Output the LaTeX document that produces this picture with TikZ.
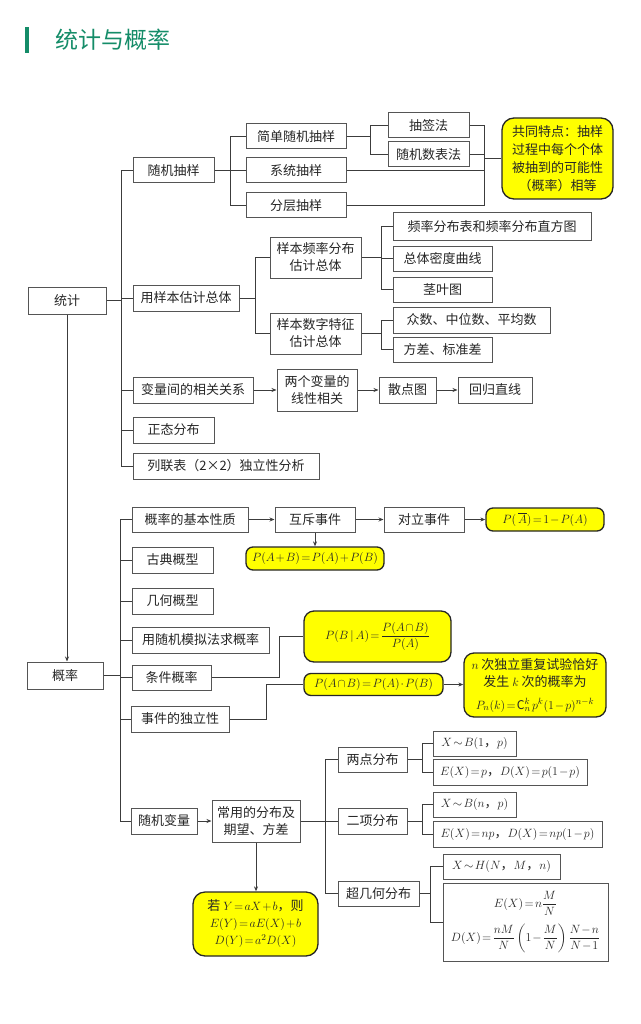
\RequirePackage{fix-cm}
\documentclass[tikz,border=0pt]{standalone}
\usepackage{amsmath}
\usepackage{fontspec}
\setmainfont{Noto Sans CJK SC}
\usetikzlibrary{arrows.meta,calc}
\DeclareMathSizes{13}{12}{9}{7}
\thickmuskip=2mu plus 1mu\medmuskip=1.5mu plus 1mu
\definecolor{TitleGreen}{RGB}{20,140,104}
\definecolor{LineGray}{RGB}{60,60,60}
\definecolor{BoxGray}{RGB}{85,85,85}
\definecolor{NoteYellow}{RGB}{255,255,0}
\tikzset{
  box/.style={draw=BoxGray,fill=white,line width=1pt,inner sep=0pt,minimum height=25pt,align=center,text=black!85,font=\fontsize{13}{17}\selectfont},
  note/.style={box,draw=black!85,fill=NoteYellow,line width=1.3pt,rounded corners=7pt},
  link/.style={draw=LineGray,line width=1pt},
  arr/.style={link,-{Stealth[length=5pt,width=4pt]}}
}
\begin{document}
\begin{tikzpicture}[x=1pt,y=-1pt]
\useasboundingbox (0,0) rectangle (640,1024);
% title
\fill[TitleGreen] (25,27) rectangle (29,53);
\node[anchor=west,inner sep=0pt,text=TitleGreen,font=\fontsize{23}{23}\selectfont] (title) at (55,40) {统计与概率};
% bus positions
\coordinate (sb) at (121,0);\coordinate (pb) at (120,0);
\coordinate (b1) at (230,0);\coordinate (b2) at (370,0);\coordinate (b3) at (484,0);
\coordinate (b4) at (255,0);\coordinate (b5) at (381,0);
\coordinate (k1) at (279,0);\coordinate (k2) at (266,0);
\coordinate (d1) at (325,0);\coordinate (d2) at (422,0);\coordinate (d3) at (430,0);
% 统计
\node[box,minimum width=78pt,minimum height=27pt] (tongji) at (67,300.5) {统计};
\node[box,minimum width=81pt] (suiji) at (173.5,170.5) {随机抽样};
\node[box,minimum width=106pt,minimum height=26pt] (yangben) at (186,298) {用样本估计总体};
\node[box,minimum width=120pt,minimum height=26pt] (bianliang) at (193,390) {变量间的相关关系};
\node[box,minimum width=81pt,minimum height=26pt] (zhengtai) at (173.5,430) {正态分布};
\node[box,minimum width=186pt,minimum height=26pt] (lianbiao) at (226,466) {列联表（2×2）独立性分析};
\node[box,minimum width=100pt] (jiandan) at (296,136.5) {简单随机抽样};
\node[box,minimum width=100pt] (xitong) at (296,170.5) {系统抽样};
\node[box,minimum width=100pt] (fenceng) at (296,205.5) {分层抽样};
\node[box,minimum width=81pt] (chouqian) at (428.5,125.5) {抽签法};
\node[box,minimum width=81pt] (suijishu) at (428.5,154.5) {随机数表法};
\node[note,minimum width=111pt,minimum height=81pt,rounded corners=12pt,font=\fontsize{13}{18}\selectfont] (tedian) at (557.5,158.5) {共同特点：抽样\\过程中每个个体\\被抽到的可能性\\（概率）相等};
\node[box,minimum width=91pt,minimum height=41pt] (pinlv) at (315.5,257.5) {样本频率分布\\估计总体};
\node[box,minimum width=91pt,minimum height=41pt] (shuzi) at (315.5,333.5) {样本数字特征\\估计总体};
\node[box,minimum width=198pt,minimum height=27pt] (zhifang) at (492,226.5) {频率分布表和频率分布直方图};
\node[box,minimum width=99pt] (midu) at (442.5,258.5) {总体密度曲线};
\node[box,minimum width=99pt] (jingye) at (442.5,289.5) {茎叶图};
\node[box,minimum width=157pt,minimum height=26pt] (zhongshu) at (471.5,320) {众数、中位数、平均数};
\node[box,minimum width=99pt] (fangcha) at (442.5,349.5) {方差、标准差};
\node[box,minimum width=80pt,minimum height=42pt] (liangge) at (317,390) {两个变量的\\线性相关};
\node[box,minimum width=57pt,minimum height=26pt] (sandian) at (407.5,390) {散点图};
\node[box,minimum width=74pt,minimum height=26pt] (huigui) at (495,390) {回归直线};
% 概率
\node[box,minimum width=76pt,minimum height=27pt] (gailv) at (65,675.5) {概率};
\node[box,minimum width=116pt] (jiben) at (190,519.5) {概率的基本性质};
\node[box,minimum width=80pt] (huchi) at (315,519.5) {互斥事件};
\node[box,minimum width=80pt] (duili) at (424,519.5) {对立事件};
\node[note,minimum width=118pt,minimum height=23pt] (pbar) at (545,519.5) {$P(\,\overline{A})=1-P(A)$};
\node[note,minimum width=138pt,minimum height=23pt] (padd) at (315,558.5) {$P(A+B)=P(A)+P(B)$};
\node[box,minimum width=81pt,minimum height=26pt] (gudian) at (172.5,560) {古典概型};
\node[box,minimum width=81pt,minimum height=26pt] (jihe) at (172.5,601) {几何概型};
\node[box,minimum width=137pt,minimum height=26pt] (moni) at (200.5,640) {用随机模拟法求概率};
\node[note,minimum width=147pt,minimum height=51pt,rounded corners=10pt] (pba) at (377.5,636.5) {$P(B\,|\,A)=\dfrac{P(A\cap B)}{P(A)}$};
\node[box,minimum width=79pt] (tiaojian) at (171.5,677.5) {条件概率};
\node[box,minimum width=98pt,minimum height=26pt] (duli) at (180,719) {事件的独立性};
\node[note,minimum width=139pt,minimum height=22pt] (pab) at (373.5,684.5) {$P(A\cap B)=P(A)\cdot P(B)$};
\node[note,minimum width=142pt,minimum height=64pt,rounded corners=10pt,font=\fontsize{13}{17}\selectfont] (nci) at (535,685) {$n$ 次独立重复试验恰好\\发生 $k$ 次的概率为\\[6pt]$P_n(k)=\mathrm{C}_n^k\;p^k(1-p)^{n-k}$};
\node[box,minimum width=88pt,minimum height=42pt] (changyong) at (256,821) {常用的分布及\\期望、方差};
\node[box,minimum width=66pt,minimum height=26pt] (bianl) at (164,821) {随机变量};
\node[note,minimum width=125pt,minimum height=64pt,rounded corners=12pt] (ruo) at (255.5,924) {若 $Y=aX+b$，则\\$E(Y)=aE(X)+b$\\$D(Y)=a^2D(X)$};
\node[box,minimum width=69pt] (liangdian) at (372.5,759.5) {两点分布};
\node[box,minimum width=69pt,minimum height=26pt] (erxiang) at (372.5,821) {二项分布};
\node[box,minimum width=81pt] (chaoji) at (378.5,893.5) {超几何分布};
\node[box,minimum width=83pt] (xb1) at (474.5,743.5) {$X\sim B(1$，$p)$};
\node[box,minimum width=154pt,minimum height=26pt] (ex1) at (510,772) {$E(X)=p$，$D(X)=p(1-p)$};
\node[box,minimum width=83pt] (xbn) at (474.5,804.5) {$X\sim B(n$，$p)$};
\node[box,minimum width=169pt,minimum height=26pt] (exn) at (517.5,834) {$E(X)=np$，$D(X)=np(1-p)$};
\node[box,minimum width=117pt] (xh) at (501.5,866.5) {$X\sim H(N$，$M$，$n)$};
\node[box,minimum width=165pt,minimum height=78pt] (edh) at (525.5,922) {$E(X)=n\dfrac{M}{N}$\\[7pt]$D(X)=\dfrac{nM}{N}\left(1-\dfrac{M}{N}\right)\dfrac{N-n}{N-1}$};
% 统计 connectors
\draw[arr] (tongji.south) -- (tongji.south |- gailv.north);
\draw[link] (tongji.east) -- (tongji.east -| sb);
\draw[link] (suiji.west) -| (sb |- lianbiao.west) -- (lianbiao.west);
\foreach \n in {yangben,bianliang,zhengtai} \draw[link] (\n.west) -- (\n.west -| sb);
\draw[link] (suiji.east) -- (xitong.west);
\draw[link] (jiandan.west) -| (b1 |- fenceng.west) -- (fenceng.west);
\draw[link] (jiandan.east) -- (jiandan.east -| b2);
\draw[link] (chouqian.west) -| (b2 |- suijishu.west) -- (suijishu.west);
\draw[link] (chouqian.east) -| (b3 |- fenceng.east) -- (fenceng.east);
\foreach \n in {suijishu,xitong} \draw[link] (\n.east) -- (\n.east -| b3);
\draw[link] (tedian.west) -- (tedian.west -| b3);
\draw[link] (yangben.east) -- (yangben.east -| b4);
\draw[link] (pinlv.west) -| (b4 |- shuzi.west) -- (shuzi.west);
\draw[link] (pinlv.east) -- (pinlv.east -| b5);
\draw[link] (zhifang.west) -| (b5 |- jingye.west) -- (jingye.west);
\draw[link] (midu.west) -- (midu.west -| b5);
\draw[link] (shuzi.east) -- (shuzi.east -| b5);
\draw[link] (zhongshu.west) -| (b5 |- fangcha.west) -- (fangcha.west);
\draw[arr] (bianliang) -- (liangge);\draw[arr] (liangge) -- (sandian);\draw[arr] (sandian) -- (huigui);
% 概率 connectors
\draw[link] (gailv.east) -- (gailv.east -| pb);
\draw[link] (jiben.west) -| (pb |- bianl.west) -- (bianl.west);
\foreach \n in {gudian,jihe,moni,tiaojian,duli} \draw[link] (\n.west) -- (\n.west -| pb);
\draw[arr] (jiben) -- (huchi);\draw[arr] (huchi) -- (duili);\draw[arr] (duili) -- (pbar);
\draw[arr] (huchi.south) -- (padd.north);
\draw[link] (tiaojian.east) -| (k1 |- pba.west) -- (pba.west);
\draw[link] (duli.east) -| (k2 |- pab.west) -- (pab.west);
\draw[arr] (pab.east) -- (pab.east -| nci.west);
\draw[arr] (bianl) -- (changyong);
\draw[arr] (changyong.south) -- (changyong.south |- ruo.north);
\draw[link] (changyong.east) -- (erxiang.west);
\draw[link] (liangdian.west) -| (d1 |- chaoji.west) -- (chaoji.west);
\draw[link] (liangdian.east) -- (liangdian.east -| d2);
\draw[link] (xb1.west) -| (d2 |- ex1.west) -- (ex1.west);
\draw[link] (erxiang.east) -- (erxiang.east -| d2);
\draw[link] (xbn.west) -| (d2 |- exn.west) -- (exn.west);
\draw[link] (chaoji.east) -- (chaoji.east -| d3);
\draw[link] (xh.west) -| (d3 |- edh.west) -- (edh.west);
\end{tikzpicture}
\end{document}
